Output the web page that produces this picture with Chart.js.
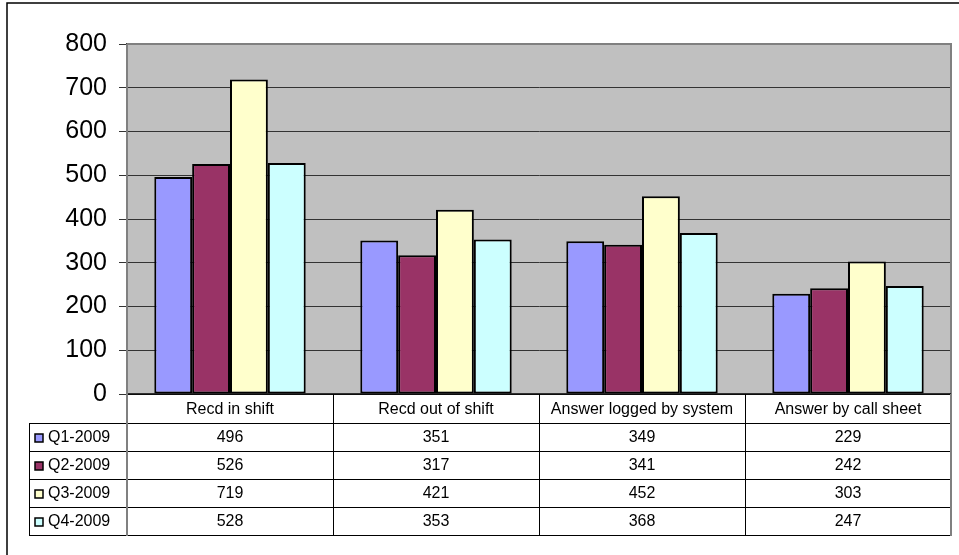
<!DOCTYPE html>
<html>
<head>
<meta charset="utf-8">
<script src="https://cdn.jsdelivr.net/npm/chart.js@4/dist/chart.umd.min.js"></script>
<style>
  html, body { margin: 0; padding: 0; background: #ffffff; }
  #wrap { width: 959px; height: 555px; position: relative; }
</style>
</head>
<body>
<div id="wrap"><canvas id="c" width="959" height="555"></canvas></div>
<script>
// Call handling counts per quarter, 2009
const categories = ['Recd in shift', 'Recd out of shift', 'Answer logged by system', 'Answer by call sheet'];
const seriesNames = ['Q1-2009', 'Q2-2009', 'Q3-2009', 'Q4-2009'];
const q1 = [496, 351, 349, 229];
const q2 = [526, 317, 341, 242];
const q3 = [719, 421, 452, 303];
const q4 = [528, 353, 368, 247];
const yTicks = [0, 100, 200, 300, 400, 500, 600, 700, 800];

const seriesValues = [q1, q2, q3, q4];
const seriesColors = ['#9999FF', '#993366', '#FFFFCC', '#CCFFFF'];

const FONT = '"Liberation Sans", Arial, sans-serif';

// Grey plot background and frame
const plotBackground = {
  id: 'plotBackground',
  beforeDraw(chart) {
    const { ctx, chartArea: a } = chart;
    ctx.save();
    ctx.fillStyle = '#C0C0C0';
    ctx.fillRect(a.left, a.top, a.right - a.left, a.bottom - a.top);
    ctx.restore();
  },
  afterDatasetsDraw(chart) {
    const { ctx, chartArea: a } = chart;
    ctx.save();
    ctx.strokeStyle = '#808080';
    ctx.lineWidth = 2;
    ctx.beginPath();
    ctx.moveTo(a.left, a.top);
    ctx.lineTo(a.right, a.top);
    ctx.lineTo(a.right, a.bottom);
    ctx.stroke();
    ctx.strokeStyle = '#000000';
    ctx.lineWidth = 1.5;
    ctx.beginPath();
    ctx.moveTo(a.left, a.bottom);
    ctx.lineTo(a.right, a.bottom);
    ctx.stroke();
    ctx.restore();
  }
};

// Data table under the plot, with legend keys in the first column
const dataTable = {
  id: 'dataTable',
  afterDraw(chart) {
    const { ctx, chartArea: a } = chart;
    const xs = chart.scales.x;
    const headerTop = a.bottom;
    const headerBottom = headerTop + 29;
    const rowH = 28;
    const tableBottom = headerBottom + rowH * seriesNames.length;
    const keyLeft = 29;
    const colW = (a.right - a.left) / categories.length;

    ctx.save();
    // outer chart frame
    ctx.strokeStyle = '#000000';
    ctx.lineWidth = 1.5;
    ctx.beginPath();
    ctx.moveTo(7, 560);
    ctx.lineTo(7, 3);
    ctx.lineTo(965, 3);
    ctx.stroke();

    // grid of the table
    ctx.lineWidth = 1;
    ctx.strokeStyle = '#000000';
    ctx.beginPath();
    for (let i = 0; i <= seriesNames.length; i++) {
      const y = Math.round(headerBottom + i * rowH) + 0.5;
      ctx.moveTo(keyLeft, y);
      ctx.lineTo(a.right, y);
    }
    for (let i = 1; i <= categories.length; i++) {
      const x = Math.round(a.left + i * colW) + 0.5;
      ctx.moveTo(x, headerTop);
      ctx.lineTo(x, tableBottom);
    }
    ctx.moveTo(keyLeft + 0.5, headerBottom);
    ctx.lineTo(keyLeft + 0.5, tableBottom);
    ctx.stroke();

    ctx.strokeStyle = '#808080';
    ctx.lineWidth = 2;
    ctx.beginPath();
    ctx.moveTo(a.left, a.top);
    ctx.lineTo(a.left, tableBottom + 1);
    ctx.moveTo(a.right, a.bottom);
    ctx.lineTo(a.right, tableBottom + 1);
    ctx.stroke();

    // header labels
    ctx.fillStyle = '#000000';
    ctx.textAlign = 'center';
    ctx.textBaseline = 'middle';
    ctx.font = '16px ' + FONT;
    categories.forEach((c, i) => {
      ctx.fillText(c, xs.getPixelForValue(i), (headerTop + headerBottom) / 2 + 1);
    });

    // rows
    seriesNames.forEach((name, r) => {
      const cy = headerBottom + r * rowH + rowH / 2 + 1;
      // legend key
      ctx.fillStyle = seriesColors[r];
      ctx.fillRect(35, cy - 4, 8, 8);
      ctx.strokeStyle = '#000000';
      ctx.lineWidth = 1.5;
      ctx.strokeRect(35, cy - 4, 8, 8);
      ctx.fillStyle = '#000000';
      ctx.textAlign = 'left';
      ctx.font = '16px ' + FONT;
      ctx.fillText(name, 48, cy);
      ctx.textAlign = 'center';
      seriesValues[r].forEach((v, i) => {
        ctx.fillText(String(v), xs.getPixelForValue(i), cy);
      });
    });
    ctx.restore();
  }
};

const chart = new Chart(document.getElementById('c'), {
  type: 'bar',
  data: {
    labels: categories,
    datasets: seriesNames.map((name, i) => ({
      label: name,
      data: seriesValues[i],
      backgroundColor: seriesColors[i],
      borderColor: '#000000',
      borderWidth: 2,
      borderSkipped: false,
      categoryPercentage: 0.735,
      barPercentage: 1.0
    }))
  },
  options: {
    responsive: false,
    animation: false,
    devicePixelRatio: 1,
    layout: { padding: { left: 0, top: 44, right: 8, bottom: 161 } },
    plugins: {
      legend: { display: false },
      tooltip: { enabled: false }
    },
    scales: {
      x: { display: false },
      y: {
        min: 0,
        max: 800,
        afterFit(scale) { scale.width = 127; },
        afterBuildTicks(scale) { scale.ticks = yTicks.map(v => ({ value: v })); },
        ticks: {
          color: '#000000',
          font: { family: FONT, size: 25 },
          padding: 12
        },
        grid: {
          color: '#333333',
          lineWidth: 1,
          tickLength: 8,
          drawTicks: true
        },
        border: { display: true, color: '#404040', width: 2 }
      }
    }
  },
  plugins: [plotBackground, dataTable]
});
</script>
</body>
</html>
